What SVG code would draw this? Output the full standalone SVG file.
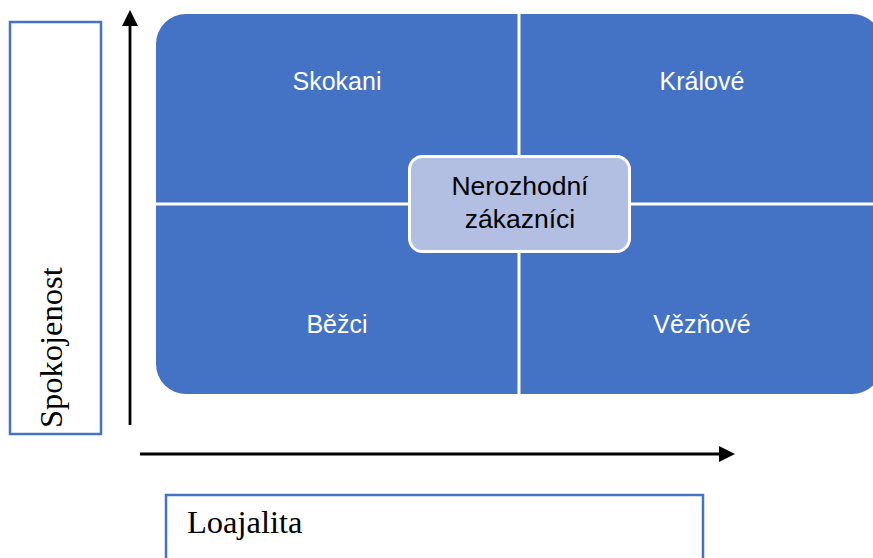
<svg xmlns="http://www.w3.org/2000/svg" width="873" height="558" viewBox="0 0 873 558">
<style>
.quad{fill:#4472C4;}
.ql{font-family:"Liberation Sans",Arial,sans-serif;font-size:25px;fill:#ffffff;text-anchor:middle;}
.cl{font-family:"Liberation Sans",Arial,sans-serif;font-size:26.5px;fill:#000000;text-anchor:middle;}
.axbox{fill:#ffffff;stroke:#4472C4;stroke-width:2.5;}
.axl{font-family:"Liberation Serif","Times New Roman",serif;font-size:32.5px;fill:#000000;}
.ax{stroke:#000000;stroke-width:2.8;fill:none;marker-end:url(#arr);}
</style>
<defs>
<marker id="arr" markerUnits="userSpaceOnUse" markerWidth="16" markerHeight="16" refX="0" refY="8" orient="auto">
<path d="M0,0 L16,8 L0,16 Z" fill="#000000"/>
</marker>
</defs>
<g id="skokani">
<path class="quad" d="M156,44 A30,30 0 0 1 186,14 H517.5 V202.5 H156 Z"/>
<text class="ql" x="337" y="90">Skokani</text>
</g>
<g id="kralove">
<path class="quad" d="M520.5,14 H852 A30,30 0 0 1 882,44 V202.5 H520.5 Z"/>
<text class="ql" x="702" y="90">Králové</text>
</g>
<g id="bezci">
<path class="quad" d="M156,205.5 H517.5 V394 H186 A30,30 0 0 1 156,364 Z"/>
<text class="ql" x="337" y="333">Běžci</text>
</g>
<g id="veznove">
<path class="quad" d="M520.5,205.5 H882 V364 A30,30 0 0 1 852,394 H520.5 Z"/>
<text class="ql" x="702" y="333">Vězňové</text>
</g>
<g id="nerozhodni">
<rect x="409.5" y="156.5" width="220" height="95" rx="13" ry="13" fill="#B2BEE2" stroke="#ffffff" stroke-width="3"/>
<text class="cl" x="520" y="195">Nerozhodní</text>
<text class="cl" x="520" y="228">zákazníci</text>
</g>
<g id="spokojenost">
<rect class="axbox" x="10" y="22" width="91" height="412"/>
<text class="axl" transform="translate(62,428) rotate(-90)">Spokojenost</text>
</g>
<g id="loajalita">
<rect class="axbox" x="166" y="495" width="537" height="80"/>
<text class="axl" x="187" y="533">Loajalita</text>
</g>
<g id="connectors">
<line class="ax" x1="130" y1="425" x2="130" y2="26"/>
<line class="ax" x1="140" y1="454" x2="719" y2="454"/>
</g>
</svg>
